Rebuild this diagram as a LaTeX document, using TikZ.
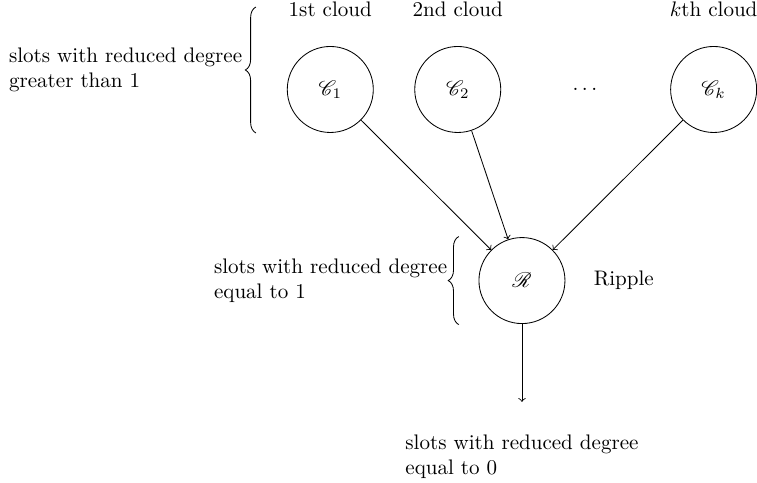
\documentclass[tikz,border=0pt]{standalone}
\usepackage{mathrsfs}
\usetikzlibrary{positioning,decorations.pathreplacing}

\begin{document}
\begin{tikzpicture}[
  bag/.style={circle, draw, minimum size=1.436cm, inner sep=0pt},
  curly/.style={decorate, decoration={brace, amplitude=5pt}},
  note/.style={align=left}
]

% Frame
\useasboundingbox (-5.514,-6.553) rectangle (7.124,1.494);

% Clouds
\node[bag] (c1) at (0,0) {$\mathscr{C}_1$};
\node[bag] (c2) at (2.128,0) {$\mathscr{C}_2$};
\node (dots) at (4.25,0) {$\dots$};
\node[bag] (ck) at (6.40,0) {$\mathscr{C}_k$};

% Cloud names
\node[above=0.36cm of c1] (name1) {1st cloud};
\node[above=0.36cm of c2] (name2) {2nd cloud};
\node[above=0.36cm of ck] (namek) {$k$th cloud};

% Ripple
\node[bag] (r) at (3.20,-3.19) {$\mathscr{R}$};
\node[right=0.35cm of r] (rname) {Ripple};

% Edges into the ripple
\draw[->] (c1) -- (r);
\draw[->] (c2) -- (r);
\draw[->] (ck) -- (r);

% Edge out of the ripple
\coordinate[below=1.30cm of r] (out);
\draw[->] (r) -- (out);
\node[note, below=0.42cm of out] (done) {slots with reduced degree\\equal to 0};

% Braces
\draw[curly] (-1.242,-0.726) -- (-1.242,1.377)
  node[note, midway, left=3pt] (high) {slots with reduced degree\\greater than 1};
\draw[curly] (2.145,-3.925) -- (2.145,-2.455)
  node[note, midway, left=2pt] (one) {slots with reduced degree\\equal to 1};

\end{tikzpicture}
\end{document}
